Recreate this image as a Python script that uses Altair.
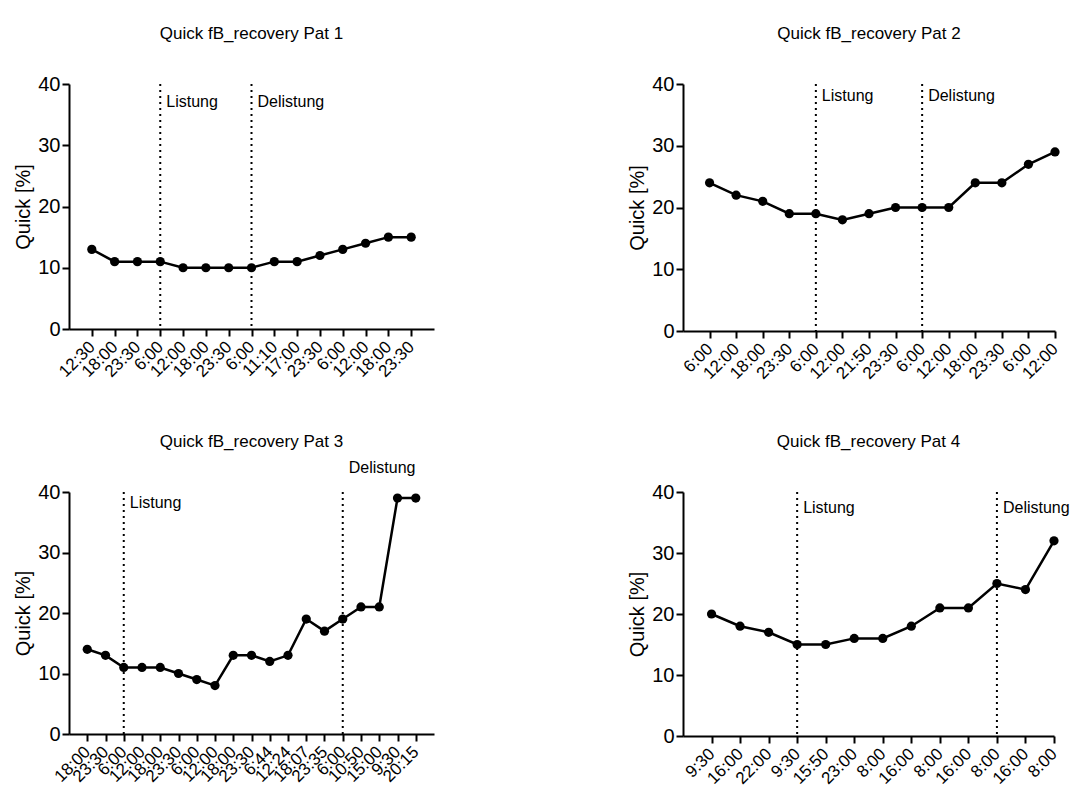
import altair as alt
import pandas as pd

FONT = "Liberation Sans"

# Sampling times (x tick labels) and Quick values per patient
p1_times = ["12:30", "18:00", "23:30", "6:00", "12:00", "18:00", "23:30", "6:00",
            "11:10", "17:00", "23:30", "6:00", "12:00", "18:00", "23:30"]
p1_quick = [13, 11, 11, 11, 10, 10, 10, 10, 11, 11, 12, 13, 14, 15, 15]

p2_times = ["6:00", "12:00", "18:00", "23:30", "6:00", "12:00", "21:50", "23:30",
            "6:00", "12:00", "18:00", "23:30", "6:00", "12:00"]
p2_quick = [24, 22, 21, 19, 19, 18, 19, 20, 20, 20, 24, 24, 27, 29]

p3_times = ["18:00", "23:30", "6:00", "12:00", "18:00", "23:30", "6:00", "12:00",
            "18:00", "23:30", "6:44", "12:24", "18:07", "23:35", "6:00", "10:50",
            "15:00", "9:30", "20:15"]
p3_quick = [14, 13, 11, 11, 11, 10, 9, 8, 13, 13, 12, 13, 19, 17, 19, 21, 21, 39, 39]

p4_times = ["9:30", "16:00", "22:00", "9:30", "15:50", "23:00", "8:00", "16:00",
            "8:00", "16:00", "8:00", "16:00", "8:00"]
p4_quick = [20, 18, 17, 15, 15, 16, 16, 18, 21, 21, 25, 24, 32]

# Index of the listing / delisting sample for each patient
listung_idx = [3, 4, 2, 3]
delistung_idx = [7, 8, 14, 10]

event_names = ["Listung", "Delistung"]


def panel(title, times, quick, i_list, i_delist, label_y, width, height, right_pad,
          title_offset):
    n = len(times)
    df = pd.DataFrame({"i": list(range(n)), "quick": quick})
    label_expr = "[" + ",".join("'%s'" % t for t in times) + "][datum.value]"

    x = alt.X(
        "i:Q",
        scale=alt.Scale(domain=[-1, n - 1 + right_pad], nice=False, zero=False),
        axis=alt.Axis(values=list(range(n)), labelExpr=label_expr, labelAngle=-45,
                      labelAlign="right", labelBaseline="middle", labelPadding=8,
                      labelFontSize=17, labelOverlap=False, labelFlush=False,
                      labelBound=False, title=None),
    )
    y = alt.Y(
        "quick:Q",
        scale=alt.Scale(domain=[0, 40], nice=False),
        axis=alt.Axis(values=[0, 10, 20, 30, 40], title="Quick [%]",
                      labelFontSize=20, titleFontSize=20, titleFontWeight="normal",
                      titlePadding=4, labelPadding=2),
    )

    ev = pd.DataFrame({
        "i": [i_list, i_delist],
        "name": event_names,
        "ty": label_y,
    })

    line = alt.Chart(df).mark_line(color="black", strokeWidth=2.5).encode(x=x, y=y)
    dots = alt.Chart(df).mark_circle(color="black", size=85, opacity=1).encode(x=x, y=y)
    rules = alt.Chart(ev).mark_rule(color="black", strokeWidth=2,
                                    strokeDash=[2, 4]).encode(x=x)
    notes = alt.Chart(ev).mark_text(align="left", baseline="middle", dx=6,
                                    fontSize=16, font=FONT, color="black").encode(
        x=x, y=alt.Y("ty:Q", scale=alt.Scale(domain=[0, 40], nice=False)),
        text="name:N")

    return alt.layer(line, rules, dots, notes).properties(
        width=width, height=height,
        title=alt.TitleParams(title, fontSize=17, fontWeight="normal", font=FONT,
                              color="black", frame="group", anchor="middle",
                              baseline="bottom", offset=title_offset),
    )


p1 = panel("Quick fB_recovery Pat 1", p1_times, p1_quick, listung_idx[0], delistung_idx[0],
           [37, 37], 365, 245, 1, 14)
p2 = panel("Quick fB_recovery Pat 2", p2_times, p2_quick, listung_idx[1], delistung_idx[1],
           [38, 38], 372, 247, 0, 14)
p3 = panel("Quick fB_recovery Pat 3", p3_times, p3_quick, listung_idx[2], delistung_idx[2],
           [38.2, 44], 365, 242, 1, -8)
p4 = panel("Quick fB_recovery Pat 4", p4_times, p4_quick, listung_idx[3], delistung_idx[3],
           [37.4, 37.4], 371, 244, 0, 14)

row1 = alt.hconcat(p1, p2, spacing=193)
row2 = alt.hconcat(p3, p4, spacing=193)

chart = alt.vconcat(row1, row2, spacing=50).properties(
    padding={"left": 13, "top": 25, "right": 5, "bottom": 0},
    background="white",
).configure_view(stroke=None).configure_axis(
    grid=False,
    domainColor="black", domainWidth=2,
    tickColor="black", tickWidth=2, tickSize=7,
    labelColor="black", titleColor="black",
    labelFont=FONT, titleFont=FONT,
).configure_axisX(labelOverlap=False).configure_text(font=FONT)

chart.save("out.html", embed_options={"renderer": "svg", "actions": False})
